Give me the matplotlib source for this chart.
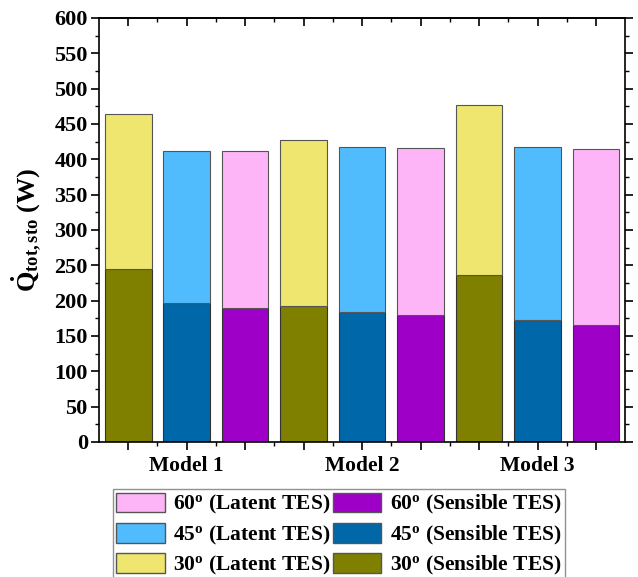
import numpy as np
import matplotlib.pyplot as plt
from matplotlib.patches import Patch
from matplotlib.ticker import MultipleLocator

plt.rcParams['font.family'] = ['Liberation Serif', 'DejaVu Serif']
plt.rcParams['font.weight'] = 'bold'
plt.rcParams['mathtext.fontset'] = 'custom'
plt.rcParams['mathtext.rm'] = 'Liberation Serif:bold'
plt.rcParams['mathtext.it'] = 'Liberation Serif:bold'
plt.rcParams['mathtext.bf'] = 'Liberation Serif:bold'

# Data
models = ['Model 1', 'Model 2', 'Model 3']
angles = ['30', '45', '60']
sensible = [245, 196, 190, 193, 184, 180, 236, 172, 166]
total = [464, 412, 411, 427, 417, 416, 477, 418, 414]
latent = [t - s for t, s in zip(total, sensible)]

col_sens = {'30': '#808000', '45': '#0068A8', '60': '#9E00C8'}
col_lat = {'30': '#EEE66E', '45': '#50BCFE', '60': '#FDB5F7'}

x = np.arange(1, 10)
bar_angles = angles * 3

fig = plt.figure(figsize=(6.38, 5.77), dpi=100)
ax = fig.add_axes([0.155, 0.234, 0.825, 0.735])

for i in range(9):
    a = bar_angles[i]
    ax.bar(x[i], sensible[i], width=0.8, color=col_sens[a], edgecolor='#333333', linewidth=0.8)
    ax.bar(x[i], latent[i], width=0.8, bottom=sensible[i], color=col_lat[a],
           edgecolor='#555555', linewidth=0.8)

ax.set_xlim(0.5, 9.5)
ax.set_ylim(0, 600)
ax.yaxis.set_major_locator(MultipleLocator(50))
ax.yaxis.set_minor_locator(MultipleLocator(25))
ax.set_xticks(x)
ax.set_xticklabels(['', models[0], '', '', models[1], '', '', models[2], ''])
ax.set_xticks(np.arange(1.5, 9.5, 1), minor=True)
ax.tick_params(axis='both', which='major', width=1.2, length=6)
ax.tick_params(axis='both', which='minor', width=1.0, length=3)
ax.tick_params(axis='y', which='both', right=True, direction='out', labelsize=16, pad=2)
ax.tick_params(axis='x', which='both', direction='out', labelsize=15.5, pad=4)
# top ticks point inward
ax2 = ax.secondary_xaxis('top')
ax2.set_xticks(x)
ax2.set_xticks(np.arange(1.5, 9.5, 1), minor=True)
ax2.tick_params(which='both', direction='in', labeltop=False)
ax2.tick_params(which='major', width=1.2, length=6)
ax2.tick_params(which='minor', width=1.0, length=3)
ax2.spines['top'].set_linewidth(1.2)
for lab in ax.get_xticklabels() + ax.get_yticklabels():
    lab.set_fontweight('bold')
for sp in ax.spines.values():
    sp.set_linewidth(1.2)

ax.set_ylabel(r'$\dot{\mathrm{Q}}_{\mathrm{tot,sto}}$ (W)', fontsize=19, fontweight='bold')
ax.yaxis.set_label_coords(-0.105, 0.5)

handles = []
labels = []
for a in ['60', '45', '30']:
    handles.append(Patch(facecolor=col_lat[a], edgecolor='#555555'))
    labels.append(a + r'$^{\mathrm{o}}$ (Latent TES)')
for a in ['60', '45', '30']:
    handles.append(Patch(facecolor=col_sens[a], edgecolor='#555555'))
    labels.append(a + r'$^{\mathrm{o}}$ (Sensible TES)')

fig.legend(handles, labels, ncol=2, loc='upper center', bbox_to_anchor=(0.531, 0.152),
           prop={'size': 15.5, 'weight': 'bold'}, frameon=True, fancybox=False,
           edgecolor='#777777', handlelength=2.25, handleheight=1.05,
           columnspacing=0.1, handletextpad=0.4, labelspacing=0.3, borderpad=0.15,
           borderaxespad=0)

fig.savefig('out.png', dpi=100)
